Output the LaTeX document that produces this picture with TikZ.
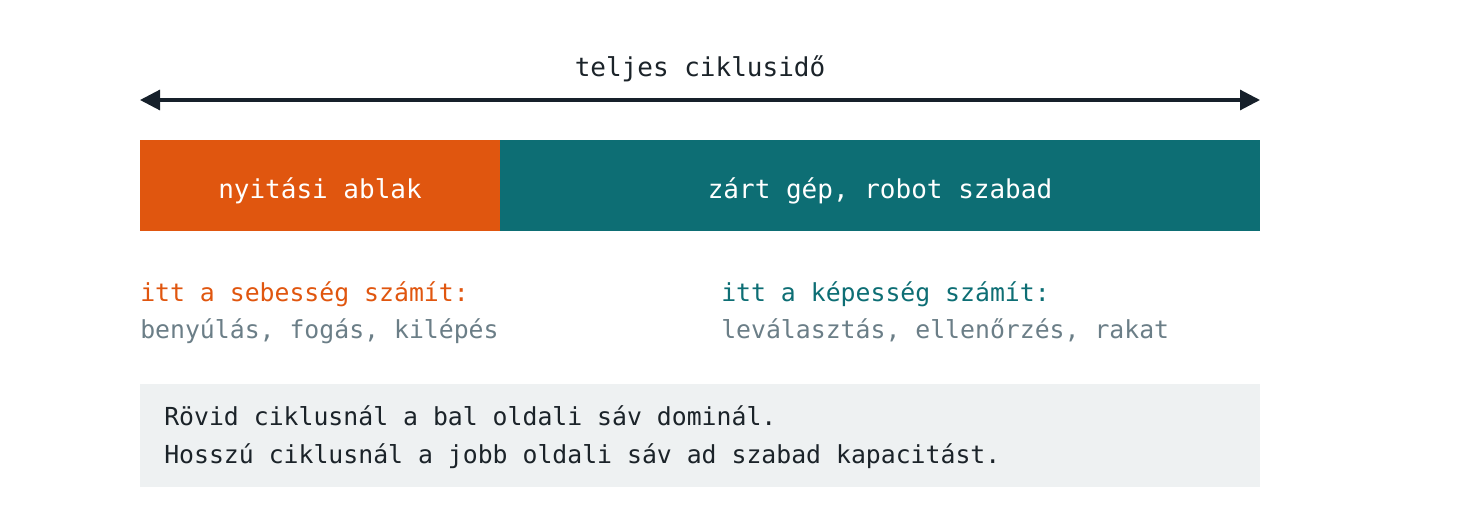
\documentclass[tikz,border=0pt]{standalone}
\usepackage{fontspec}
\setmonofont{DejaVu Sans Mono}
\usetikzlibrary{arrows.meta}
\definecolor{orangebar}{HTML}{E0560F}
\definecolor{tealbar}{HTML}{0D6E74}
\definecolor{graytext}{HTML}{6B7E87}
\definecolor{darktext}{HTML}{1B2329}
\definecolor{boxfill}{HTML}{EEF1F2}
\definecolor{arrowcol}{HTML}{16202A}
\tikzset{
  bigtxt/.style={font=\ttfamily\fontsize{19.5pt}{23pt}\selectfont, inner sep=0pt},
  smalltxt/.style={font=\ttfamily\fontsize{18.6pt}{23pt}\selectfont, inner sep=0pt, anchor=base west},
  barbox/.style={draw=none, minimum height=68.25pt, inner sep=0pt, text=white},
}
\begin{document}
\begin{tikzpicture}[x=0.75pt,y=-0.75pt]
\useasboundingbox (0,0) rectangle (1460,510);
% title
\node[bigtxt, anchor=base, text=darktext] (title) at (700,77) {teljes ciklusidő};
% arrow
\coordinate (L) at (140,100);
\coordinate (R) at (1260,100);
\draw[arrowcol, line width=2.3pt, {Triangle[length=15pt,width=15pt]}-{Triangle[length=15pt,width=15pt]}] (L) -- (R);
% bars
\node[barbox, fill=orangebar, minimum width=270pt, anchor=north west] (open) at (140,140) {};
\node[barbox, fill=tealbar, minimum width=570pt, anchor=north west] (closed) at (500,140) {};
\node[bigtxt, anchor=base, text=white] (openlbl) at (320,198) {nyitási ablak};
\node[bigtxt, anchor=base, text=white] (closedlbl) at (880,198) {zárt gép, robot szabad};
% notes
\node[smalltxt, text=orangebar] (lh) at (140,301) {itt a sebesség számít:};
\node[smalltxt, text=graytext] (ld) at (140,338) {benyúlás, fogás, kilépés};
\node[smalltxt, text=tealbar] (rh) at (721,301) {itt a képesség számít:};
\node[smalltxt, text=graytext] (rd) at (721,338) {leválasztás, ellenőrzés, rakat};
% info box
\node[fill=boxfill, minimum width=840pt, minimum height=77.25pt, anchor=north west, inner sep=0pt] (info) at (140,384) {};
\node[smalltxt, text=darktext] (i1) at (164,425) {Rövid ciklusnál a bal oldali sáv dominál.};
\node[smalltxt, text=darktext] (i2) at (164,463) {Hosszú ciklusnál a jobb oldali sáv ad szabad kapacitást.};
\end{tikzpicture}
\end{document}
